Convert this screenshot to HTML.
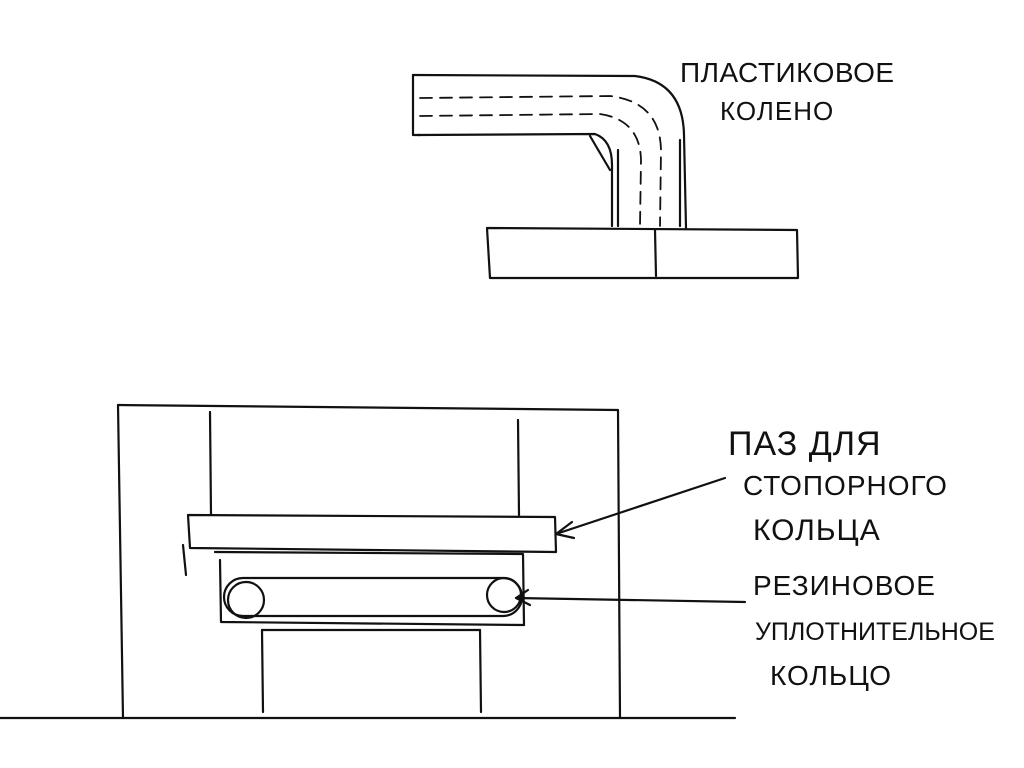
<!DOCTYPE html>
<html><head><meta charset="utf-8"><style>
html,body{margin:0;padding:0;background:#fff;}
svg{display:block}
text{font-family:"Liberation Sans","DejaVu Sans",sans-serif;fill:#111;letter-spacing:1px;}
</style></head><body>
<svg width="1024" height="768" viewBox="0 0 1024 768" xmlns="http://www.w3.org/2000/svg">
<g fill="none" stroke="#111" stroke-width="2.2" stroke-linecap="round" stroke-linejoin="round">
<path d="M413 75 L635 76 Q683 82 684 135 L686 228"/>
<path d="M413 75 L413 135 L420 135"/>
<path d="M418 135 L595 134 Q612 140 612 165 L612 226"/>
<path d="M618 150 L618 226"/>
<path d="M590 136 L610 170"/>
<path d="M680 140 L680 226"/>
<g stroke-dasharray="12 8" stroke-width="1.8">
<path d="M420 98 L610 96 Q660 102 661 150 L660 226"/>
<path d="M420 116 L600 114 Q640 120 641 160 L640 226"/>
</g>
<path d="M487 228 L797 230 L798 278 L490 278 Z"/>
<path d="M655 230 L656 276"/>
<path d="M118 405 L618 410 L620 718"/>
<path d="M118 405 L123 718"/>
<path d="M0 718 L735 718"/>
<path d="M210 412 L211 515"/>
<path d="M518 420 L519 515"/>
<path d="M188 515 L555 517 L556 552 L190 548 Z"/>
<path d="M183 545 L186 575"/>
<path d="M215 552 L523 554 L524 625"/>
<path d="M220 560 L221 622 L524 625"/>
<rect x="224" y="578" width="298" height="38" rx="19"/>
<circle cx="246" cy="600" r="18"/>
<circle cx="504" cy="595" r="17"/>
<path d="M262 630 L480 630"/>
<path d="M262 630 L263 712"/>
<path d="M480 630 L481 712"/>
<path d="M725 478 L556 534"/>
<path d="M556 534 L572 522 M556 534 L574 538"/>
<path d="M745 602 L516 598"/>
<path d="M516 598 L528 590 M516 598 L530 605"/>
</g>
<text x="680" y="82" font-size="28" style="letter-spacing:0.5px">ПЛАСТИКОВОЕ</text>
<text x="720" y="120" font-size="26">КОЛЕНО</text>
<text x="728" y="455" font-size="34">ПАЗ ДЛЯ</text>
<text x="743" y="495" font-size="28">СТОПОРНОГО</text>
<text x="753" y="540" font-size="30">КОЛЬЦА</text>
<text x="753" y="595" font-size="28">РЕЗИНОВОЕ</text>
<text x="755" y="640" font-size="25" style="letter-spacing:0px">УПЛОТНИТЕЛЬНОЕ</text>
<text x="770" y="685" font-size="28">КОЛЬЦО</text>
</svg>
</body></html>
